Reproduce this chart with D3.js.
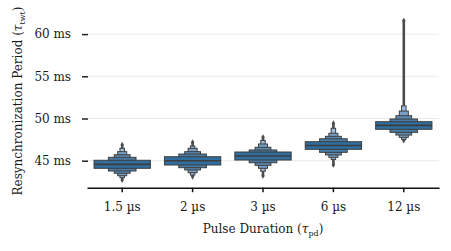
<!DOCTYPE html>
<html>
<head>
<meta charset="utf-8">
<script src="https://cdn.jsdelivr.net/npm/d3@7"></script>
<style>
  body { margin: 0; background: #fff; }
  text { font-family: "DejaVu Serif", serif; fill: #1a1a1a; }
</style>
</head>
<body>
<div id="chart"></div>
<script>
// letter values (ms), inner box first
const categories = ["1.5 µs", "2 µs", "3 µs", "6 µs", "12 µs"];
const medians = [44.57, 45.0, 45.56, 46.8, 49.19];
const lowerLV = [
  [44.10, 43.78, 43.51, 43.22, 42.99],
  [44.49, 44.17, 43.90, 43.58, 43.30],
  [45.08, 44.76, 44.45, 44.10, 43.75],
  [46.35, 45.99, 45.68, 45.40, 45.15],
  [48.72, 48.36, 48.04, 47.77, 47.53]
];
const upperLV = [
  [45.05, 45.40, 45.71, 46.07, 46.47],
  [45.47, 45.79, 46.07, 46.47, 46.74],
  [46.03, 46.27, 46.59, 46.98, 47.40],
  [47.25, 47.60, 47.89, 48.25, 48.84],
  [49.62, 49.94, 50.33, 50.88, 51.50]
];
const flierMin = [42.71, 43.10, 43.20, 44.50, 47.40];
const flierMax = [46.90, 47.18, 47.80, 49.43, 61.60];
const yTicks = [45, 50, 55, 60];

var width = 451, height = 251;
var left = 87, right = 439, axisY = 187.7;

var svg = d3.select("#chart").append("svg")
  .attr("width", width)
  .attr("height", height);

var x = d3.scaleBand().domain(categories).range([left, right]);
var y = d3.scaleLinear().domain([45, 60]).range([160.7, 34.1]);

// grid
svg.append("g").selectAll("line")
  .data(yTicks).enter().append("line")
  .attr("x1", left).attr("x2", right)
  .attr("y1", d => y(d)).attr("y2", d => y(d))
  .attr("stroke", "#ebebeb").attr("stroke-width", 1);

// y axis: ticks + labels only, no spine
var yAxis = d3.axisLeft(y).tickValues(yTicks).tickSize(6).tickPadding(11)
  .tickFormat(d => d + " ms");
var gy = svg.append("g").attr("transform", "translate(88,0)").call(yAxis);
gy.select(".domain").remove();
gy.selectAll(".tick line").attr("stroke", "#222").attr("stroke-width", 1.5);
gy.selectAll(".tick text").style("font-size", "12px").style("font-family", "DejaVu Serif").attr("fill", "#1a1a1a");

// x axis
var xAxis = d3.axisBottom(x).tickSize(4.5).tickPadding(10).tickSizeOuter(0);
var gx = svg.append("g").attr("transform", "translate(0," + axisY + ")").call(xAxis);
gx.select(".domain").attr("stroke", "#111").attr("stroke-width", 1.6);
gx.selectAll(".tick line").attr("stroke", "#111").attr("stroke-width", 1.5);
gx.selectAll(".tick text").style("font-size", "12px").style("font-family", "DejaVu Serif").attr("fill", "#1a1a1a");

// boxen
var levelColors = ["#2f6e9f", "#4a7ca6", "#5d8bb3", "#79a1c6", "#9bbde0"];
var relWidth = [1, 0.49, 0.28, 0.16, 0.08];
var boxW = x.bandwidth() * 0.8;
var edge = "#3d3d3d";

categories.forEach(function(c, i) {
  var cx = x(c) + x.bandwidth() / 2;
  var g = svg.append("g");
  var nl = lowerLV[i].length;
  // fliers
  g.append("line")
    .attr("x1", cx).attr("x2", cx)
    .attr("y1", y(upperLV[i][nl - 1])).attr("y2", y(flierMax[i]))
    .attr("stroke", "#4b4b4b").attr("stroke-width", 2.6);
  g.append("line")
    .attr("x1", cx).attr("x2", cx)
    .attr("y1", y(lowerLV[i][nl - 1])).attr("y2", y(flierMin[i]))
    .attr("stroke", "#4b4b4b").attr("stroke-width", 2.6);
  [flierMin[i], flierMax[i]].forEach(function(v) {
    g.append("path")
      .attr("d", d3.symbol().type(d3.symbolDiamond).size(10)())
      .attr("transform", "translate(" + cx + "," + y(v) + ")")
      .attr("fill", "#4b4b4b");
  });
  // outer levels first so the wide inner box sits on top
  for (var k = nl - 1; k >= 0; k--) {
    var w = boxW * relWidth[k];
    g.append("rect")
      .attr("x", cx - w / 2)
      .attr("width", w)
      .attr("y", y(upperLV[i][k]))
      .attr("height", y(lowerLV[i][k]) - y(upperLV[i][k]))
      .attr("fill", levelColors[k])
      .attr("stroke", edge).attr("stroke-width", 1);
  }
  g.append("line")
    .attr("x1", cx - boxW / 2).attr("x2", cx + boxW / 2)
    .attr("y1", y(medians[i])).attr("y2", y(medians[i]))
    .attr("stroke", edge).attr("stroke-width", 1.6);
});

// axis titles
var xl = svg.append("text")
  .attr("x", (left + right) / 2).attr("y", 233)
  .attr("text-anchor", "middle").style("font-size", "12px");
xl.append("tspan").text("Pulse Duration (");
xl.append("tspan").text("τ").style("font-style", "italic");
xl.append("tspan").text("pd").attr("dy", 2.5).style("font-size", "8px");
xl.append("tspan").text(")").attr("dy", -2.5);

var yl = svg.append("text")
  .attr("transform", "translate(22,101) rotate(-90)")
  .attr("text-anchor", "middle").style("font-size", "12px");
yl.append("tspan").text("Resynchronization Period (");
yl.append("tspan").text("τ").style("font-style", "italic");
yl.append("tspan").text("twt").attr("dy", 2.5).style("font-size", "8px");
yl.append("tspan").text(")").attr("dy", -2.5);
</script>
</body>
</html>
